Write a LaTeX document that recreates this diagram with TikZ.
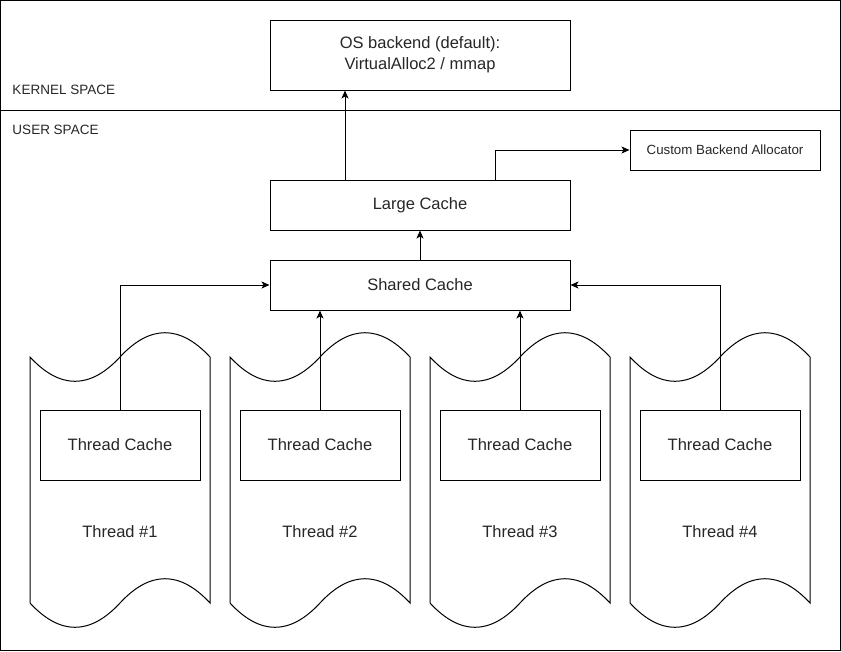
\documentclass[tikz,border=0pt]{standalone}
\usepackage{fontspec}
\setmainfont{Liberation Sans}
\usetikzlibrary{arrows.meta}
\begin{document}
\begin{tikzpicture}[x=1pt,y=-1pt,line width=1pt,line join=miter,>={Stealth[length=8pt,width=7pt,inset=2pt]}]
			\tikzset{box/.style={draw,inner sep=0pt,align=center,text=black!85,
					font=\fontsize{16.5}{21}\selectfont},
				lbl/.style={inner sep=0pt,text=black!85,font=\fontsize{13.5}{16}\selectfont},
				arr/.style={->}}
			\useasboundingbox (0,0) rectangle (841,651);
			\draw (0.5,0.5) rectangle (840,650);
			\draw (0.5,110) -- (840,110);
			\node[lbl,anchor=west] (kern) at (12,90) {KERNEL SPACE};
			\node[lbl,anchor=west] (user) at (12,130) {USER SPACE};
			\node[box,minimum width=300pt,minimum height=70pt] (os) at (420,55) {OS backend (default):\\VirtualAlloc2 / mmap};
			\node[box,minimum width=190pt,minimum height=40pt,font=\fontsize{13.3}{16}\selectfont] (custom) at (725,150) {Custom Backend Allocator};
			\node[box,minimum width=300pt,minimum height=50pt] (large) at (420,205) {Large Cache};
			\node[box,minimum width=300pt,minimum height=50pt] (shared) at (420,285) {Shared Cache};
			\foreach \i in {1,...,4}{
				\pgfmathsetmacro\xo{30+200*(\i-1)}
				% bande ondulée du thread
				\draw[shift={(\xo,0)}] (0,357) .. controls (30,389.4) and (60,389.4) .. (90,357)
					.. controls (120,324.6) and (150,324.6) .. (180,357) -- (180,603)
					.. controls (150,570.6) and (120,570.6) .. (90,603)
					.. controls (60,635.4) and (30,635.4) .. (0,603) -- cycle;
				\node[box,minimum width=160pt,minimum height=70pt] (tc\i) at (\xo+90,445) {Thread Cache};
				\node[box,draw=none] (th\i) at (\xo+90,532) {Thread \#\i};}
			\draw[arr] ([xshift=-75pt]large.north) -- ([xshift=-75pt]os.south);
			\draw[arr] ([xshift=75pt]large.north) |- (custom.west);
			\draw[arr] (shared.north) -- (large.south);
			\draw[arr] (tc1.north) |- (shared.west);
			\draw[arr] (tc2.north) -- (tc2.north |- shared.south);
			\draw[arr] (tc3.north) -- (tc3.north |- shared.south);
			\draw[arr] (tc4.north) |- (shared.east);
		\end{tikzpicture}
\end{document}
